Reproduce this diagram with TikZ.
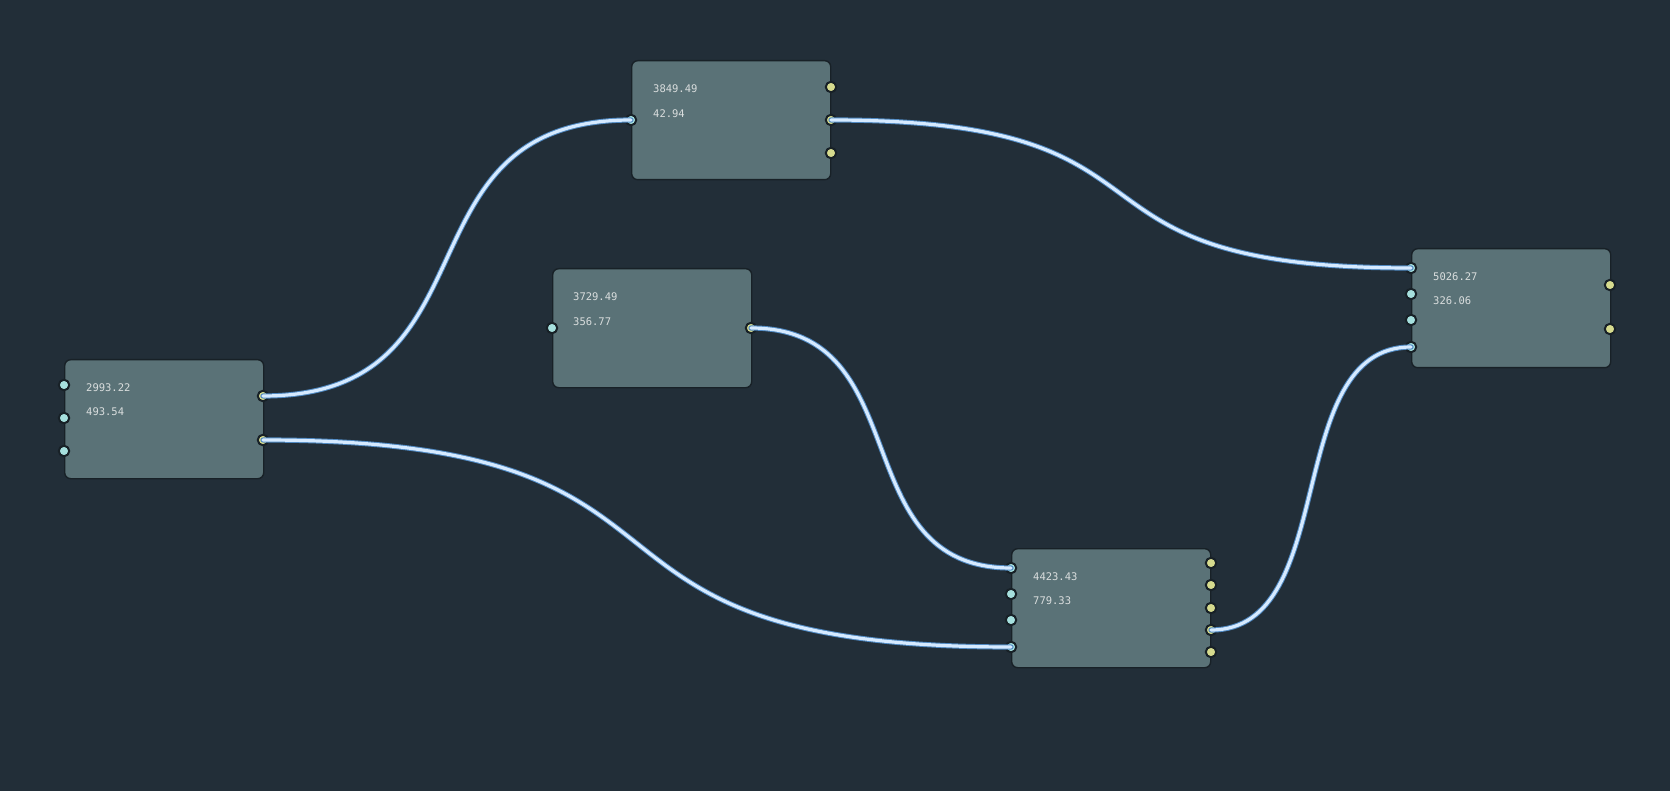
\documentclass[tikz,border=0pt]{standalone}
\usepackage{fontspec}
\setmonofont{DejaVu Sans Mono}
\definecolor{bg}{HTML}{222E38}
\definecolor{boxfill}{HTML}{5A7277}
\definecolor{edge}{HTML}{182127}
\definecolor{portin}{HTML}{A6E0DE}
\definecolor{portout}{HTML}{D6DB8E}
\definecolor{txt}{HTML}{DADEDE}
\definecolor{wirein}{HTML}{D6EAFF}
\definecolor{wireout}{HTML}{5089C2}
\begin{document}
\begin{tikzpicture}[x=1pt,y=-1pt,line cap=round,line join=round,
  box/.style={draw=edge,fill=boxfill,rounded corners=6pt,line width=1.4pt,minimum width=199pt,minimum height=119pt,anchor=north west,inner sep=0pt},
  val/.style={anchor=west,text=txt,font=\ttfamily\fontsize{10.5}{12}\selectfont,inner sep=0pt},
  pin/.style={circle,draw=edge,line width=2pt,fill=portin,minimum size=10.5pt,inner sep=0pt},
  pout/.style={pin,fill=portout},
  wire/.style={draw=wirein,line width=3.2pt,preaction={draw=wireout,line width=5.2pt}}]
	\fill[bg] (0,0) rectangle (1670,791);
	% boxes
	\node[box] (a) at (64,359) {};
	\node[box] (b) at (631,60) {};
	\node[box] (c) at (552,268) {};
	\node[box] (d) at (1011,548) {};
	\node[box] (e) at (1411,248) {};
	% values
	\node[val] (a1) at (86,388) {2993.22};
	\node[val] (a2) at (86,412) {493.54};
	\node[val] (b1) at (653,89) {3849.49};
	\node[val] (b2) at (653,114) {42.94};
	\node[val] (c1) at (573,297) {3729.49};
	\node[val] (c2) at (573,322) {356.77};
	\node[val] (d1) at (1033,577) {4423.43};
	\node[val] (d2) at (1033,601) {779.33};
	\node[val] (e1) at (1433,277) {5026.27};
	\node[val] (e2) at (1433,301) {326.06};
	% ports
	\foreach \y [count=\i] in {385,418,451} \node[pin] (a-in\i) at (64,\y) {};
	\foreach \y [count=\i] in {396,440} \node[pout] (a-out\i) at (263,\y) {};
	\node[pin] (b-in1) at (631,120) {};
	\foreach \y [count=\i] in {87,120,153} \node[pout] (b-out\i) at (831,\y) {};
	\node[pin] (c-in1) at (552,328) {};
	\node[pout] (c-out1) at (751,328) {};
	\foreach \y [count=\i] in {568,594,620,647} \node[pin] (d-in\i) at (1011,\y) {};
	\foreach \y [count=\i] in {563,585,608,630,652} \node[pout] (d-out\i) at (1211,\y) {};
	\foreach \y [count=\i] in {268,294,320,347} \node[pin] (e-in\i) at (1411,\y) {};
	\foreach \y [count=\i] in {285,329} \node[pout] (e-out\i) at (1610,\y) {};
	% wires
	\draw[wire] (a-out1.center) .. controls +(240,0) and +(-240,0) .. (b-in1.center);
	\draw[wire] (a-out2.center) .. controls +(486,0) and +(-486,0) .. (d-in4.center);
	\draw[wire] (b-out2.center) .. controls +(377,0) and +(-377,0) .. (e-in1.center);
	\draw[wire] (c-out1.center) .. controls +(169,0) and +(-169,0) .. (d-in1.center);
	\draw[wire] (d-out4.center) .. controls +(130,0) and +(-130,0) .. (e-in4.center);
\end{tikzpicture}
\end{document}
